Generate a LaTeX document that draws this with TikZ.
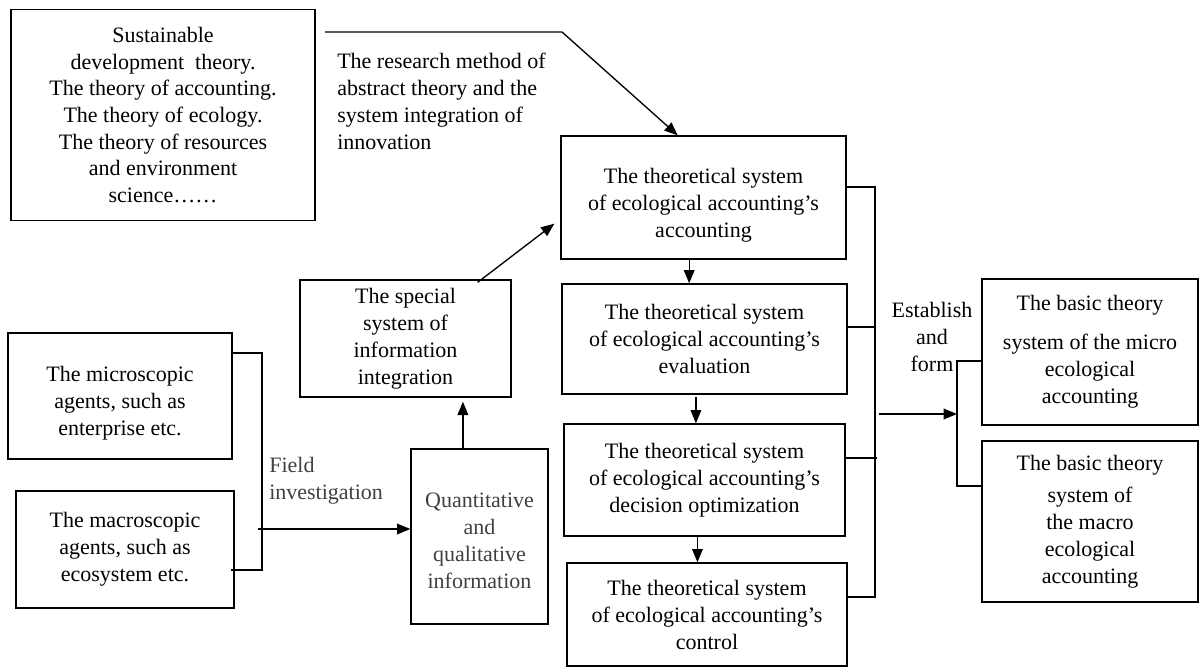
\documentclass[tikz,border=0pt]{standalone}
\usepackage{fontspec}
\setmainfont{Liberation Serif}
\usetikzlibrary{arrows.meta,calc}
\definecolor{txtgray}{HTML}{404040}
\begin{document}
\begin{tikzpicture}[x=0.75pt,y=-0.75pt,
  box/.style={draw, line width=1pt, align=center, inner sep=0pt,
    font=\fontsize{16.5}{20.25}\selectfont},
  sz/.style 2 args={minimum width=#1*0.75pt, minimum height=#2*0.75pt},
  lbl/.style={inner sep=0pt, font=\fontsize{16.5}{20.25}\selectfont},
  conn/.style={line width=1pt},
  arr/.style={line width=1pt, -{Triangle[length=10pt,width=8pt]}}]
\useasboundingbox (0,0) rectangle (1200,668);
% boxes
\node[box, sz={304}{211}, font=\fontsize{16.5}{20}\selectfont] (A) at (163,115) {Sustainable\\development~ theory.\\The theory of accounting.\\The theory of ecology.\\The theory of resources\\and environment\\science……};
\node[box, sz={285}{123}] (B) at (703.5,197.5) {\rule{0pt}{23pt}The theoretical system\\of ecological accounting’s\\accounting};
\node[box, sz={285}{110}] (C) at (704.5,339) {The theoretical system\\of ecological accounting’s\\evaluation};
\node[box, sz={281}{112}] (D) at (704.5,480) {The theoretical system\\of ecological accounting’s\\decision optimization};
\node[box, sz={280}{103}] (E) at (707,614.5) {The theoretical system\\of ecological accounting’s\\control};
\node[box, sz={211}{117}] (S) at (405.5,338.5) {The special\\system of\\information\\integration};
\node[box, sz={137}{175}, text=txtgray] (Q) at (479.5,536.5) {\rule{0pt}{17pt}Quantitative\\and\\qualitative\\information};
\node[box, sz={224}{126}] (MI) at (120,396) {\rule{0pt}{23pt}The microscopic\\agents, such as\\enterprise etc.};
\node[box, sz={218}{117}] (MA) at (125,549.5) {The macroscopic\\agents, such as\\ecosystem etc.};
\node[box, sz={216}{146}] (BI) at (1090,352) {The basic theory\\[9pt]system of the micro\\ecological\\accounting};
\node[box, sz={216}{161}] (BA) at (1090,521.5) {The basic theory\\[4pt]system of\\the macro\\ecological\\accounting};
% labels
\node[lbl, anchor=west, align=left] (res) at (337,101.5) {The research method of\\abstract theory and the\\system integration of\\innovation};
\node[lbl, anchor=west, align=left, text=txtgray] (field) at (269,481) {Field\\investigation};
\node[lbl, align=center] (est) at (932,337) {Establish\\and\\form};
% top connector
\coordinate (t0) at (325,32);
\coordinate (t1) at (562,32);
\draw[arr] (t0) -- (t1) -- ($(B.north west)!0.41!(B.north east)$);
% special -> B
\draw[arr] ($(S.north east)+(-34,3)$) -- ($(B.south west)+(-6,-36)$);
% Q -> S
\coordinate (qt) at ($(Q.north west)!0.38!(Q.north east)$);
\draw[arr, shorten >=3pt] (qt) -- (qt |- S.south);
% down arrows
\draw[arr] ($(B.south west)!0.45!(B.south east)$) coordinate (b1) -- (b1 |- C.north);
\draw[arr, shorten <=2pt] ($(C.south west)!0.47!(C.south east)$) coordinate (c1) -- (c1 |- D.north);
\draw[arr] ($(D.south west)!0.475!(D.south east)$) coordinate (d1) -- (d1 |- E.north);
% left bracket
\coordinate (lb1) at (262,353);
\coordinate (lb2) at (262,570);
\draw[conn] (lb1 -| MI.east) -- (lb1) -- (lb2) -- ($(lb2 -| MA.east)+(-4,0)$);
\coordinate (fa) at (258,529);
\draw[arr] (fa) -- (fa -| Q.west);
% right bracket
\coordinate (rb1) at (875,187);
\coordinate (rb2) at (875,327);
\coordinate (rb3) at (875,458);
\coordinate (rb4) at (875,597);
\draw[conn] (rb1 -| B.east) -- (rb1) -- (rb4) -- (rb4 -| E.east);
\draw[conn] (rb2 -| C.east) -- (rb2);
\draw[conn] (rb3 -| D.east) -- ($(rb3)+(2,0)$);
% second bracket
\coordinate (sb1) at (957,361);
\coordinate (sb2) at (957,486);
\draw[conn] (sb1 -| BI.west) -- (sb1) -- (sb2) -- (sb2 -| BA.west);
\coordinate (ra) at (879,414);
\draw[arr] (ra) -- (ra -| sb1);
\end{tikzpicture}
\end{document}
